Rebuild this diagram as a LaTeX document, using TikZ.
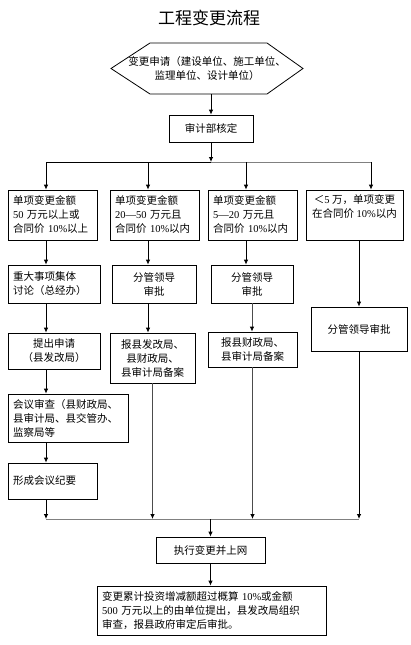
\documentclass[tikz,border=0pt]{standalone}
\usepackage{fontspec}
\setmainfont{Noto Sans CJK SC}
\newfontfamily\latn{Liberation Serif}
\newcommand{\nb}[1]{{\latn #1}}
\usetikzlibrary{arrows.meta}

\begin{document}
\begin{tikzpicture}[x=1pt, y=-1pt,
  font=\fontsize{10.5}{14}\selectfont,
  box/.style={draw, line width=0.8pt, align=center, inner xsep=5pt, inner ysep=2pt},
  lbox/.style={box, align=left},
  arr/.style={-{Latex[length=5pt,width=4.5pt]}, line width=0.8pt},
  garr/.style={arr, draw=black!70, -{Latex[length=5pt,width=4.5pt,color=black]}},
  bus/.style={draw=black!50, line width=1pt}
]
\useasboundingbox (0,0) rectangle (411,645);

\node[font=\fontsize{17}{20}\selectfont] (title) at (209,18) {工程变更流程};

% application hexagon
\draw[line width=0.8pt] (150,43) -- (267,43) -- (303,68.5) -- (267,94) -- (150,94) -- (111,68.5) -- cycle;
\node[align=center] (req) at (207,69) {变更申请（建设单位、施工单位、\\监理单位、设计单位）};
\coordinate (reqb) at (211,94);
\node[box, minimum width=84, minimum height=27] (audit) at (211,128.5) {审计部核定};

\coordinate (xA) at (46,0);
\coordinate (xB) at (148,0);
\coordinate (xC) at (246,0);
\coordinate (busL) at (46,162);
\coordinate (busR) at (371,162);

% row 1
\node[lbox, text width=79, minimum height=50] (a1) at (52.5,215) {单项变更金额\\\nb{50} 万元以上或\\合同价 \nb{10\%}以上};
\node[lbox, text width=79, minimum height=50] (b1) at (154.5,215) {单项变更金额\\\nb{20—50} 万元且\\合同价 \nb{10\%}以内};
\node[lbox, text width=79, minimum height=50] (c1) at (252.5,215) {单项变更金额\\\nb{5—20} 万元且\\合同价 \nb{10\%}以内};
\node[box, minimum width=97, minimum height=50] (d1) at (354.5,215) {＜\nb{5} 万，单项变更\\在合同价 \nb{10\%}以内\\\strut};

% row 2
\node[lbox, text width=82, minimum height=38] (a2) at (54,284) {重大事项集体\\讨论（总经办）};
\node[box, minimum width=84, minimum height=38] (b2) at (154,284) {分管领导\\审批};
\node[box, minimum width=82, minimum height=38] (c2) at (252,284) {分管领导\\审批};
\node[box, minimum width=96, minimum height=44] (d2) at (359,329) {分管领导审批};

% row 3
\node[box, minimum width=92, minimum height=36] (a3) at (54,351) {提出申请\\（县发改局）};
\node[box, minimum width=85, minimum height=50] (b3) at (152.5,358) {报县发改局、\\县财政局、\\县审计局备案};
\node[box, minimum width=89, minimum height=35] (c3) at (252.5,349.5) {报县财政局、\\县审计局备案};

% rows 4-5
\node[lbox, text width=110, minimum height=48] (a4) at (68,418) {会议审查（县财政局、\\县审计局、县交管办、\\监察局等};
\node[lbox, text width=79, minimum height=36] (a5) at (52.5,481) {形成会议纪要};

\coordinate (bus2L) at (46,519);
\coordinate (bus2R) at (359,519);

\node[box, minimum width=109, minimum height=26] (exec) at (210.5,550) {执行变更并上网};
\node[lbox, text width=219, minimum height=49] (final) at (211.5,610.5) {变更累计投资增减额超过概算 \nb{10\%}或金额\\\nb{500} 万元以上的由单位提出，县发改局组织\\审查，报县政府审定后审批。};

\draw[arr] (reqb) -- (audit);
\draw[arr] (audit) -- (audit |- busL);
\draw[line width=0.8pt] (busL) -- (audit |- busL);
\draw[bus] (audit |- busL) -- (busR);

\draw[arr] (busL) -- (a1.north -| xA);
\draw[arr] (xB |- busL) -- (b1.north -| xB);
\draw[arr] (xC |- busL) -- (c1.north -| xC);
\draw[arr] (busR) -- (d1.north -| busR);

\draw[arr] (a1.south -| xA) -- (a2.north -| xA);
\draw[arr] (b1.south -| xB) -- (b2.north -| xB);
\draw[arr] (c1.south -| xC) -- (c2.north -| xC);
\draw[arr] (d1.south -| d2) -- (d2);

\draw[arr] (a2.south -| xA) -- (a3.north -| xA);
\draw[arr] (b2.south -| xB) -- (b3.north -| xB);
\draw[garr] (c2.south) -- (c2.south |- c3.north);
\draw[arr] (a3.south -| xA) -- (a4.north -| xA);
\draw[arr] (a4.south -| xA) -- (a5.north -| xA);

\draw[bus] (bus2L) -- (bus2R);
\draw[arr] (a5.south -| xA) -- (bus2L);
\draw[garr] (b3.south) -- (b3.south |- bus2L);
\draw[garr] (c3.south) -- (c3.south |- bus2L);
\draw[arr] (d2) -- (bus2R);

\draw[arr] (exec |- bus2L) -- (exec);
\draw[arr] (exec.south) -- (exec.south |- final.north);
\end{tikzpicture}
\end{document}
